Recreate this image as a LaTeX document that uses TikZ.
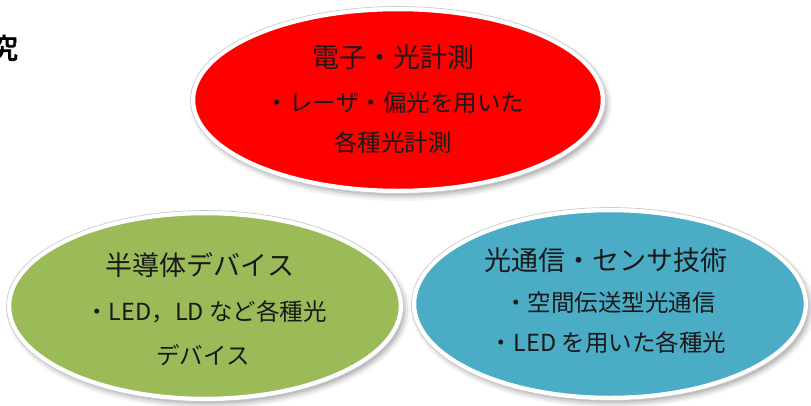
\documentclass[tikz,border=0pt]{standalone}
\usepackage{fontspec}
\setmainfont{Noto Sans CJK JP}
\newfontfamily\jpb[FakeBold=3]{Noto Sans CJK JP}
\usetikzlibrary{shapes.geometric,calc}
\definecolor{rfill}{HTML}{FF0000}
\definecolor{gfill}{HTML}{9BBB59}
\definecolor{bfill}{HTML}{4BACC6}
\newcommand{\blobshadow}[3]{%
  \foreach \k/\o in {6/0.04,4/0.06,2/0.08,0/0.10}{%
    \fill[black,opacity=\o] ($(#1)+(3,4)$) ellipse [x radius={#2+\k}, y radius={#3+\k}];}}
\begin{document}
\begin{tikzpicture}[x=1pt,y=-1pt,
  blob/.style={ellipse, draw=white, line width=4.5pt, inner sep=0pt},
  rim/.style={draw=black!20, line width=0.7pt},
  big/.style={font=\fontsize{27}{27}\selectfont, text=black!90, inner sep=0pt},
  small/.style={font=\fontsize{23.5}{23.5}\selectfont, text=black!90, inner sep=0pt}]
\useasboundingbox (0,0) rectangle (811,405);
\fill[white] (0,0) rectangle (811,405);
% title fragment
\node[font=\jpb\fontsize{28}{28}\selectfont, inner sep=0pt] (title) at (4,48) {究};
% shadows
\blobshadow{398,100}{205}{91}
\blobshadow{205,306}{196}{93}
\blobshadow{610,304}{196}{94}
% ellipses
\coordinate (cm) at (398,100);
\coordinate (cd) at (205,306);
\coordinate (cc) at (610,304);
\node[blob, fill=rfill, minimum width=410pt, minimum height=182pt] (meas) at (cm) {};
\draw[rim] (cm) ellipse [x radius=207.5, y radius=93.5];
\node[blob, fill=gfill, minimum width=392pt, minimum height=186pt] (dev) at (cd) {};
\draw[rim] (cd) ellipse [x radius=198.5, y radius=95.5];
\node[blob, fill=bfill, minimum width=392pt, minimum height=188pt] (comm) at (cc) {};
\draw[rim] (cc) ellipse [x radius=198.5, y radius=96.5];
% texts
\node[big] (m1) at (393,57) {電子・光計測};
\node[small] (m2) at (395,103) {・レーザ・偏光を用いた};
\node[small] (m3) at (393,143) {各種光計測};
\node[big] (d1) at (200,265) {半導体デバイス};
\node[small] (d2) at (206,312) {・LED，LD など各種光};
\node[small] (d3) at (203,355) {デバイス};
\node[big] (c1) at (606,260) {光通信・センサ技術};
\node[small] (c2) at (610,303) {・空間伝送型光通信};
\node[small] (c3) at (608,343) {・LED を用いた各種光};
\end{tikzpicture}
\end{document}
